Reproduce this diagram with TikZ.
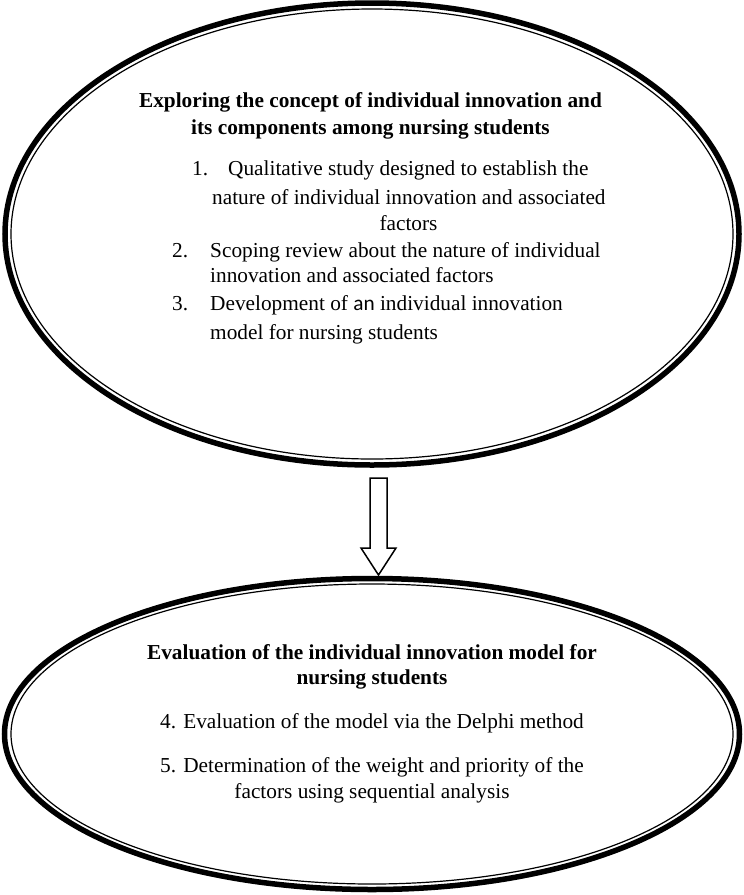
\documentclass[tikz,border=0pt]{standalone}
\usepackage{fontspec}
\setmainfont{Liberation Serif}
\newfontfamily\calfont{Carlito}
\usetikzlibrary{shapes.geometric,calc}
\begin{document}
\begin{tikzpicture}[x=1pt,y=-1pt,
  outerring/.style={draw,ellipse,line width=5.5pt,inner sep=0pt},
  innerring/.style={line width=1.2pt},
  txt/.style={inner sep=0pt,anchor=base,font=\fontsize{21.3}{27.5}\selectfont},
  txtl/.style={txt,anchor=base west},
  headtxt/.style={txt,font=\fontsize{21.3}{27.5}\selectfont\bfseries},
  blockarrow/.style={draw,line width=1.5pt,line join=miter,fill=white}
]
\useasboundingbox (0,0) rectangle (744,895);

% top ellipse
\node[outerring,minimum width=734pt,minimum height=462pt] (top) at (372,234) {};
\draw[innerring] (top.center) ellipse [x radius=361pt, y radius=225pt];

\node[headtxt] (t1) at (370.5,107) {Exploring the concept of individual innovation and};
\node[headtxt] (t2) at (370.5,134) {its components among nursing students};
\node[txtl] (n1) at (192,175) {1.};
\node[txtl] (i1a) at (228,175) {Qualitative study designed to establish the};
\node[txtl] (i1b) at (212,204) {nature of individual innovation and associated};
\node[txt] (i1c) at (408.5,230) {factors};
\node[txtl] (n2) at (172,257) {2.};
\node[txtl] (i2a) at (210,257) {Scoping review about the nature of individual};
\node[txtl] (i2b) at (210,282) {innovation and associated factors};
\node[txtl] (n3) at (172,310) {3.};
\node[txtl] (i3a) at (210,310) {Development of {\calfont an} individual innovation};
\node[txtl] (i3b) at (210,339) {model for nursing students};

% bottom ellipse
\node[outerring,minimum width=735pt,minimum height=311pt] (bot) at (372,734) {};
\draw[innerring] (bot.center) ellipse [x radius=361pt, y radius=150pt];

% block arrow from top ellipse to bottom ellipse
\coordinate (atail) at (378.5,478);
\coordinate (atip) at (378.5,575);
\draw[blockarrow] ($(atail)+(-8.5,0)$) -- ($(atail)+(8.5,0)$) -- ($(atip)+(8.5,-27)$)
  -- ($(atip)+(17.5,-27)$) -- (atip) -- ($(atip)+(-17.5,-27)$) -- ($(atip)+(-8.5,-27)$) -- cycle;

\node[headtxt] (b1) at (372,659) {Evaluation of the individual innovation model for};
\node[headtxt] (b2) at (372,684) {nursing students};
\node[txt] (b3) at (372,728) {4. Evaluation of the model via the Delphi method};
\node[txt] (b4) at (372,772) {5. Determination of the weight and priority of the};
\node[txt] (b5) at (372,798) {factors using sequential analysis};
\end{tikzpicture}
\end{document}
